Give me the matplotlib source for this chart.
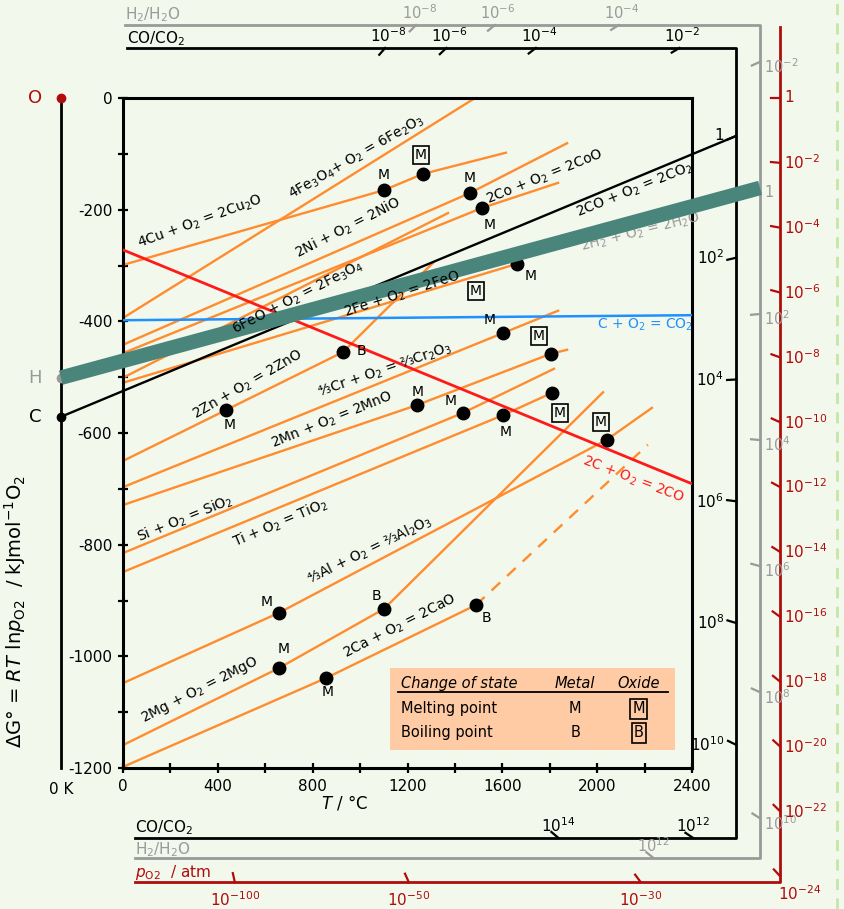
import numpy as np
import matplotlib.pyplot as plt
from matplotlib.patches import Rectangle
from matplotlib.lines import Line2D

plt.rcParams['axes.unicode_minus'] = False
plt.rcParams['font.family'] = 'DejaVu Sans'

R = 8.314e-3      # kJ/(mol K)
T0 = -262.0       # position of 0 K on the drawing

# ---- reaction lines: T in degC, dG in kJ per mol O2 ----
cu_T = [0, 1101, 1265, 1615]
cu_G = [-299, -165, -136, -98]
fe2o3_T = [0, 1485]
fe2o3_G = [-394, 0]
ni_T = [0, 1464, 1873]
ni_G = [-442, -170, -81]
co_T = [0, 1514, 1835]
co_G = [-457, -197, -152]
fe3o4_T = [0, 1371]
fe3o4_G = [-501, -206]
feo_T = [0, 1662]
feo_G = [-510, -297]
zn_T = [0, 434, 928, 1308]
zn_G = [-650, -559, -455, -295]
cr_T = [0, 1603, 1835]
cr_G = [-697, -421, -381]
mn_T = [0, 1240, 1805, 1873]
mn_G = [-729, -550, -458, -451]
si_T = [0, 1434, 1818]
si_G = [-815, -564, -485]
ti_T = [0, 1603, 1810]
ti_G = [-849, -568, -528]
al_T = [0, 658, 2041, 2231]
al_G = [-1048, -922, -612, -555]
mg_T = [0, 658, 1101, 2025]
mg_G = [-1159, -1021, -915, -527]
ca_T = [0, 856, 1489]
ca_G = [-1198, -1039, -908]
ca_gas_T = [1489, 2214]
ca_gas_G = [-908, -621]

c_co2_T = [0, 2400]
c_co2_G = [-398, -389]
c_co_T = [0, 2400]
c_co_G = [-272, -691]
co_co2_T = [T0, 2586]
co_co2_G = [-571, -68]
h2_T = [T0, 2687]
h2_G = [-501, -161]

# exponents shown on the nomographic scales
po2_exp = [0, -2, -4, -6, -8, -10, -12, -14, -16, -18, -20, -22, -24, -30, -50, -100]
coco2_exp = [-8, -6, -4, -2, 0, 2, 4, 6, 8, 10, 12, 14]
h2h2o_exp = [-8, -6, -4, -2, 0, 2, 4, 6, 8, 10, 12]

ORANGE = '#ff8c2e'
TEAL = '#4a857c'
DRED = '#b00c0c'
GRAY = '#9a9a9a'
BG = '#f3f8ec'

fig = plt.figure(figsize=(8.44, 9.09), dpi=100, facecolor=BG)
ax = fig.add_axes([123/844, 1-768/909, 569/844, 670/909], facecolor=BG)
ax.set_xlim(0, 2400)
ax.set_ylim(-1200, 0)
sx = 569/2400.0   # px per degC
sy = 670/1200.0   # px per kJ

for s in ax.spines.values():
    s.set_linewidth(2.2)
ax.set_xticks(range(0, 2401, 200))
ax.set_xticklabels([str(t) if t % 400 == 0 else '' for t in range(0, 2401, 200)], fontsize=11)
ax.set_yticks(range(-1200, 1, 100))
ax.set_yticklabels([str(t) if t % 200 == 0 else '' for t in range(-1200, 1, 100)], fontsize=11)
ax.tick_params(direction='inout', length=7.5, width=1.6, pad=4)

# ---- oxide lines ----
metal_lines = [(cu_T, cu_G), (fe2o3_T, fe2o3_G), (ni_T, ni_G), (co_T, co_G),
               (fe3o4_T, fe3o4_G), (feo_T, feo_G), (zn_T, zn_G), (cr_T, cr_G),
               (mn_T, mn_G), (si_T, si_G), (ti_T, ti_G), (al_T, al_G),
               (mg_T, mg_G), (ca_T, ca_G)]
for T, G in metal_lines:
    ax.plot(T, G, color=ORANGE, lw=1.7, zorder=2)
ax.plot(ca_gas_T, ca_gas_G, color=ORANGE, lw=1.7, ls=(0, (5, 4)), zorder=2)

ax.plot(c_co2_T, c_co2_G, color='#1e90ff', lw=1.8, zorder=3)
ax.plot(c_co_T, c_co_G, color='#ff1a1a', lw=2.0, zorder=3)
ax.plot(co_co2_T, co_co2_G, color='black', lw=1.7, zorder=3, clip_on=False)
ax.plot(h2_T, h2_G, color=TEAL, lw=10.5, solid_capstyle='butt', zorder=5, clip_on=False)

# ---- melting / boiling points ----
dots = [
    (cu_T[1], cu_G[1], 'M', False, 0, 15), (cu_T[2], cu_G[2], 'M', True, -2, 19),
    (ni_T[1], ni_G[1], 'M', False, 0, 15), (co_T[1], co_G[1], 'M', False, 8, -17),
    (feo_T[1], feo_G[1], 'M', False, 14, -12),
    (zn_T[1], zn_G[1], 'M', False, 4, -15), (zn_T[2], zn_G[2], 'B', False, 18, 1),
    (cr_T[1], cr_G[1], 'M', False, -13, 13),
    (mn_T[1], mn_G[1], 'M', False, 1, 13), (mn_T[2], mn_G[2], 'M', True, -12, 18),
    (si_T[1], si_G[1], 'M', False, -12, 12),
    (ti_T[1], ti_G[1], 'M', False, 3, -17), (ti_T[2], ti_G[2], 'M', True, 8, -20),
    (al_T[1], al_G[1], 'M', False, -12, 11), (al_T[2], al_G[2], 'M', True, -6, 18),
    (mg_T[1], mg_G[1], 'M', False, 5, 19), (mg_T[2], mg_G[2], 'B', False, -8, 13),
    (ca_T[1], ca_G[1], 'M', False, 2, -14), (ca_T[2], ca_G[2], 'B', False, 10, -13),
]
box = dict(boxstyle='square,pad=0.15', fc='none', ec='black', lw=1.2)
for T, G, lab, boxed, dx, dy in dots:
    ax.plot(T, G, 'o', color='black', ms=9, zorder=4)
    ax.annotate(lab, (T, G), xytext=(dx, dy), textcoords='offset pixels',
                ha='center', va='center', fontsize=10, zorder=6,
                bbox=box if boxed else None)
ax.text(1489, -346, 'M', ha='center', va='center', fontsize=10, bbox=box, zorder=6)

# ---- reaction labels ----
labels = [
    ('4Cu + O$_2$ = 2Cu$_2$O', 325, -222, 20, 'black'),
    ('4Fe$_3$O$_4$+ O$_2$ = 6Fe$_2$O$_3$', 987, -107, 30, 'black'),
    ('2Ni + O$_2$ = 2NiO', 949, -233, 27, 'black'),
    ('2Co + O$_2$ = 2CoO', 1780, -141, 22, 'black'),
    ('2CO + O$_2$ = 2CO$_2$', 2160, -165, 22, 'black'),
    ('2H$_2$ + O$_2$ = 2H$_2$O', 2181, -240, 14, GRAY),
    ('6FeO + O$_2$ = 2Fe$_3$O$_4$', 738, -358, 27, 'black'),
    ('2Fe + O$_2$ = 2FeO', 1177, -351, 18, 'black'),
    ('C + O$_2$ = CO$_2$', 2202, -407, 0, '#1e90ff'),
    ('2C + O$_2$ = 2CO', 2150, -683, -21, '#ff1a1a'),
    ('2Zn + O$_2$ = 2ZnO', 527, -514, 30, 'black'),
    ('⁴⁄₃Cr + O$_2$ = ²⁄₃Cr$_2$O$_3$', 1105, -487, 19, 'black'),
    ('2Mn + O$_2$ = 2MnO', 882, -577, 22, 'black'),
    ('Si + O$_2$ = SiO$_2$', 261, -754, 22, 'black'),
    ('Ti + O$_2$ = TiO$_2$', 662, -761, 23, 'black'),
    ('⁴⁄₃Al + O$_2$ = ²⁄₃Al$_2$O$_3$', 1042, -810, 26, 'black'),
    ('2Mg + O$_2$ = 2MgO', 325, -1060, 27, 'black'),
    ('2Ca + O$_2$ = 2CaO', 1168, -947, 27, 'black'),
]
for txt, T, G, rot, col in labels:
    z = 4.5 if col == GRAY else 6
    ax.text(T, G, txt, rotation=rot, rotation_mode='anchor', ha='center', va='center',
            fontsize=10, color=col, zorder=z)

# ---- legend table ----
ax.add_patch(Rectangle((1126, -1168), 1202, 147, fc='#ffcba4', ec='none', zorder=3))
ax.text(1173, -1048, 'Change of state', style='italic', fontsize=10.5, va='center', zorder=6)
ax.text(1907, -1048, 'Metal', style='italic', fontsize=10.5, va='center', ha='center', zorder=6)
ax.text(2176, -1048, 'Oxide', style='italic', fontsize=10.5, va='center', ha='center', zorder=6)
ax.plot([1160, 2300], [-1064, -1064], color='black', lw=1.3, zorder=6)
ax.text(1173, -1094, 'Melting point', fontsize=10.5, va='center', zorder=6)
ax.text(1173, -1137, 'Boiling point', fontsize=10.5, va='center', zorder=6)
ax.text(1907, -1094, 'M', fontsize=10.5, va='center', ha='center', zorder=6)
ax.text(1907, -1137, 'B', fontsize=10.5, va='center', ha='center', zorder=6)
ax.text(2176, -1094, 'M', fontsize=10.5, va='center', ha='center', bbox=box, zorder=6)
ax.text(2176, -1137, 'B', fontsize=10.5, va='center', ha='center', bbox=box, zorder=6)

# ---- 0 K axis with O, H, C points ----
ax.plot([T0, T0], [0, -1200], color='black', lw=2, clip_on=False)
ax.plot(T0, 0, 'o', color=DRED, ms=6, clip_on=False, zorder=6)
ax.plot(h2_T[0], h2_G[0], 'o', color=GRAY, ms=6, clip_on=False, zorder=4)
ax.plot(co_co2_T[0], co_co2_G[0], 'o', color='black', ms=6, clip_on=False, zorder=6)
ax.text(T0 - 110, 0, 'O', color=DRED, fontsize=13, ha='center', va='center')
ax.text(T0 - 110, h2_G[0], 'H', color=GRAY, fontsize=13, ha='center', va='center')
ax.text(T0 - 110, co_co2_G[0], 'C', color='black', fontsize=13, ha='center', va='center')
ax.text(T0, -1239, '0 K', fontsize=11, ha='center', va='center')
ax.text(-456, -920, 'ΔG° = $RT$ ln$p_{\\rm O2}$  / kJmol$^{-1}$O$_2$', rotation=90,
        fontsize=14, ha='center', va='center')
ax.text(936, -1263, '$T$ / °C', fontsize=12, ha='center', va='center')


# ---- nomographic scales ----
def draw_scale(pivot_G, s_one, n_factor, exps, top, right, bot, color, side_right, fs=11):
    for e in exps:
        s = s_one - n_factor * R * np.log(10.0) * e
        G = pivot_G + s * (right - T0)
        side = 'right'
        T = right
        if top is not None and G > top:
            side, G, T = 'top', top, T0 + (top - pivot_G) / s
        elif G < bot:
            side, G, T = 'bot', bot, T0 + (bot - pivot_G) / s
        # tick along the ray, pointing back to the pivot
        ux, uy = sx, sy * s
        n = np.hypot(ux, uy)
        L = 9
        ax.plot([T, T - L * ux / n / sx], [G, G - L * uy / n / sy], color=color,
                lw=1.6, clip_on=False)
        lab = '1' if e == 0 else '$10^{%d}$' % e
        if side == 'right':
            if side_right == 'left':
                xy, ha, va = (-12, 0), 'right', 'center'
            elif side_right == 'right':
                xy, ha, va = (4, -5), 'left', 'center'
            else:
                xy, ha, va = (4, 0), 'left', 'center'
            if bot - G > -25:
                xy, ha, va = (20, -8), 'center', 'top'
        elif side == 'top':
            xy, ha, va = (3, 3), 'center', 'bottom'
        elif side_right == 'po2':
            xy, ha, va = (0, -8), 'center', 'top'
        else:
            xy, ha, va = (0, 3), 'center', 'bottom'
        ax.annotate(lab, (T, G), xytext=xy, textcoords='offset pixels', ha=ha, va=va,
                    color=color, fontsize=fs, annotation_clip=False)


# CO/CO2 frame
co_top, co_right, co_bot = 89.6, co_co2_T[1], -1325
s_co = (co_co2_G[1] - co_co2_G[0]) / (co_co2_T[1] - T0)
ax.plot([17, co_right, co_right, 51], [co_top, co_top, co_bot, co_bot], color='black',
        lw=2, clip_on=False)
draw_scale(co_co2_G[0], s_co, 2, coco2_exp, co_top, co_right, co_bot, 'black', 'left')

# H2/H2O frame
h_top, h_right, h_bot = 130.7, h2_T[1], -1361
s_h = (h2_G[1] - h2_G[0]) / (h2_T[1] - T0)
ax.plot([8, h_right, h_right, 51], [h_top, h_top, h_bot, h_bot], color=GRAY,
        lw=2, clip_on=False)
draw_scale(h2_G[0], s_h, 2, h2h2o_exp, h_top, h_right, h_bot, GRAY, 'right', fs=10.5)

# pO2 frame
p_right, p_bot = 2771, -1404
ax.plot([p_right, p_right, 51], [127, p_bot, p_bot], color=DRED, lw=2, clip_on=False)
draw_scale(0.0, 0.0, -1, po2_exp, None, p_right, p_bot, DRED, 'po2')

ax.text(8, 150, 'H$_2$/H$_2$O', color=GRAY, fontsize=11, va='center')
ax.text(17, 107, 'CO/CO$_2$', color='black', fontsize=11, va='center')
ax.text(51, -1307, 'CO/CO$_2$', color='black', fontsize=11, va='center')
ax.text(51, -1347, 'H$_2$/H$_2$O', color=GRAY, fontsize=11, va='center')
ax.text(51, -1388, '$p_{\\rm O2}$  / atm', color=DRED, fontsize=11, va='center')

fig.add_artist(Line2D([837/844, 837/844], [0, 1], transform=fig.transFigure,
                      color='#c5e6a8', lw=2, ls=(0, (4, 3))))

fig.savefig('out.png', dpi=100, facecolor=BG)
